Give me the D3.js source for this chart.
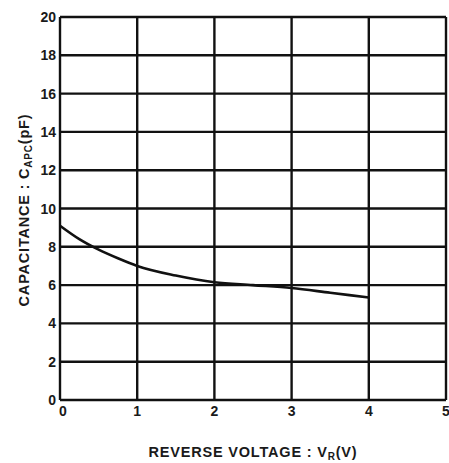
<!DOCTYPE html>
<html>
<head>
<meta charset="utf-8">
<script src="https://cdn.jsdelivr.net/npm/d3@7"></script>
<style>
  body { margin: 0; background: #fff; }
  text { font-family: 'Liberation Sans Narrow', 'Liberation Sans', Arial, sans-serif; font-weight: bold; fill: #1a1a1a; }
</style>
</head>
<body>
<div id="chart"></div>
<script>
"use strict";

// reverse voltage (V) and capacitance (pF)
const voltage = [0, 0.25, 0.5, 0.75, 1, 1.5, 2, 2.5, 3, 3.5, 4];
const capacitance = [9.1, 8.4, 7.85, 7.4, 7.0, 6.5, 6.15, 6.0, 5.85, 5.6, 5.35];

const xTicks = [0, 1, 2, 3, 4, 5];
const yTicks = [0, 2, 4, 6, 8, 10, 12, 14, 16, 18, 20];

const width = 449, height = 463;
const margin = {top: 17, right: 3, bottom: 63, left: 60};

const svg = d3.select("#chart").append("svg")
    .attr("width", width)
    .attr("height", height);

const x = d3.scaleLinear([0, 5], [margin.left, width - margin.right]);
const y = d3.scaleLinear([0, 20], [height - margin.bottom, margin.top]);

// grid
const grid = svg.append("g").attr("stroke", "#111").attr("stroke-width", 2.4);
grid.selectAll("line.h").data(yTicks).join("line")
    .attr("class", "h")
    .attr("x1", x(0)).attr("x2", x(5))
    .attr("y1", d => y(d)).attr("y2", d => y(d));
grid.selectAll("line.v").data(xTicks).join("line")
    .attr("class", "v")
    .attr("x1", d => x(d)).attr("x2", d => x(d))
    .attr("y1", y(0)).attr("y2", y(20));

// tick labels
svg.append("g")
    .attr("font-size", 14)
    .attr("text-anchor", "end")
  .selectAll("text").data(yTicks).join("text")
    .attr("x", x(0) - 4)
    .attr("y", d => y(d))
    .attr("dy", "0.36em")
    .text(d => d);

svg.append("g")
    .attr("font-size", 14)
    .attr("text-anchor", "middle")
  .selectAll("text").data(xTicks).join("text")
    .attr("x", d => x(d) + (d === 0 ? 3 : 0))
    .attr("y", y(0) + 16)
    .text(d => d);

// curve
const line = d3.line()
    .x((d, i) => x(voltage[i]))
    .y(d => y(d))
    .curve(d3.curveMonotoneX);

svg.append("path")
    .datum(capacitance)
    .attr("fill", "none")
    .attr("stroke", "#111")
    .attr("stroke-width", 2.6)
    .attr("d", line);

// axis titles
const xt = svg.append("text")
    .attr("x", 253)
    .attr("y", 457)
    .attr("text-anchor", "middle")
    .attr("font-size", 14.5)
    .attr("letter-spacing", 0.8)
    .text("REVERSE VOLTAGE : V");
xt.append("tspan").attr("font-size", 10).attr("dy", 3).text("R");
xt.append("tspan").attr("dy", -3).text("(V)");

const yt = svg.append("text")
    .attr("transform", `translate(29,210) rotate(-90)`)
    .attr("text-anchor", "middle")
    .attr("font-size", 14.5)
    .attr("letter-spacing", 0.8)
    .text("CAPACITANCE : C");
yt.append("tspan").attr("font-size", 10).attr("dy", 3).text("APC");
yt.append("tspan").attr("dy", -3).text("(pF)");
</script>
</body>
</html>
